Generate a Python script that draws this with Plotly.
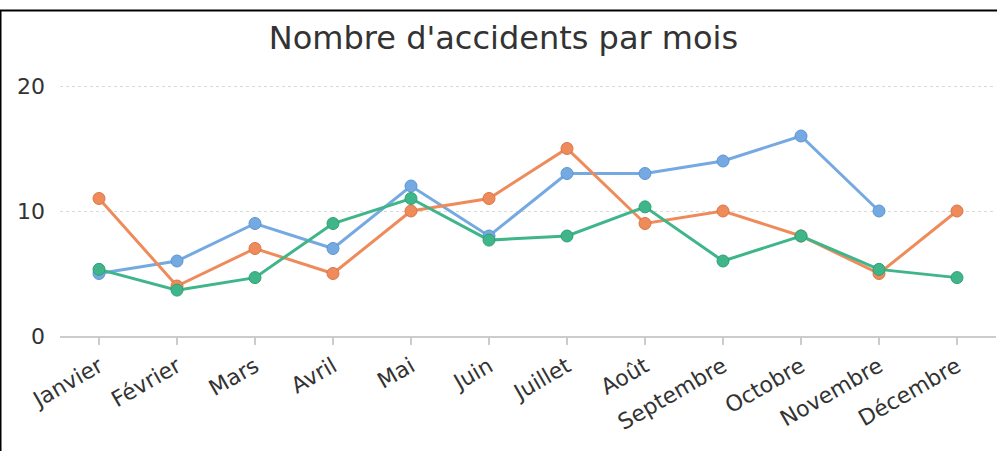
import plotly.graph_objects as go

months = ["Janvier", "Février", "Mars", "Avril", "Mai", "Juin", "Juillet",
          "Août", "Septembre", "Octobre", "Novembre", "Décembre"]
serie_bleue = [5, 6, 9, 7, 12, 8, 13, 13, 14, 16, 10, None]
serie_orange = [11, 4, 7, 5, 10, 11, 15, 9, 10, 8, 5, 10]
serie_verte = [5.33, 3.67, 4.67, 9, 11, 7.67, 8, 10.33, 6, 8, 5.33, 4.67]
y_ticks = [0, 10, 20]

W, H = 997, 451
L, R, T, B = 60, 1, 81, 115
PW, PH = W - L - R, H - T - B
Y_MAX = 20.4


def px_x(px):
    return (px - L) / PW


def px_y(py):
    return (H - B - py) / PH


fig = go.Figure()
series = [
    (serie_bleue, "#74a9e1", "#5f95cf"),
    (serie_orange, "#ef8b5b", "#d97646"),
    (serie_verte, "#3fb58a", "#2fa077"),
]
for vals, col, edge in series:
    fig.add_trace(go.Scatter(
        x=months, y=vals, mode="lines+markers",
        line=dict(color=col, width=3),
        marker=dict(size=12, color=col, line=dict(color=edge, width=1)),
        showlegend=False, hoverinfo="x+y",
    ))

fig.update_layout(
    width=W, height=H,
    margin=dict(l=L, r=R, t=T, b=B, autoexpand=False),
    paper_bgcolor="white", plot_bgcolor="white",
    font=dict(family="DejaVu Sans", color="#333333"),
    title=dict(text="Nombre d'accidents par mois", x=0.505, xref="container",
               xanchor="center", y=1 - 38 / H, yanchor="middle",
               font=dict(size=32, color="#333333", family="DejaVu Sans")),
    xaxis=dict(range=[-0.5, 11.5], showgrid=False, showline=True,
               linecolor="#cccccc", linewidth=2, ticks="outside",
               ticklen=7, tickcolor="#cccccc", tickwidth=2, tickangle=-30,
               tickfont=dict(size=22, color="#333333"), zeroline=False,
               fixedrange=True),
    yaxis=dict(range=[0, Y_MAX], tickvals=y_ticks, showgrid=True,
               gridcolor="#d9d9d9", griddash="dot", gridwidth=1,
               zeroline=False, showline=False, ticks="",
               tickfont=dict(size=22, color="#333333"), ticklabelstandoff=14,
               fixedrange=True),
    shapes=[
        dict(type="line", xref="paper", yref="paper",
             x0=px_x(0), x1=px_x(W), y0=px_y(10.5), y1=px_y(10.5),
             line=dict(color="black", width=2), layer="above"),
        dict(type="line", xref="paper", yref="paper",
             x0=px_x(0.5), x1=px_x(0.5), y0=px_y(10), y1=px_y(H),
             line=dict(color="black", width=2), layer="above"),
    ],
)

fig.write_html(
    "out.html",
    config={"displayModeBar": False},
    post_script="document.body.style.margin='0';document.body.style.overflow='hidden';",
)
